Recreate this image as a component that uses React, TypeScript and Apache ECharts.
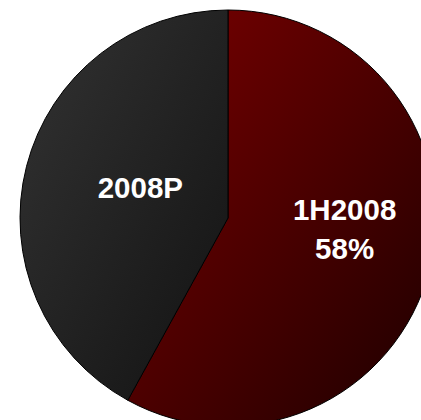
import React, { useEffect, useRef } from "react";
import * as echarts from "echarts";

const categories = ["1H2008", "2008P"];
const values = [58, 42];
const showPercent = [true, false];
const gradientStops = [
  ["#7a0000", "#1c0000"],
  ["#333333", "#121212"],
];
const labelOffsets = [
  [13, -16],
  [16, -4],
];

export default function App() {
  const ref = useRef<HTMLDivElement>(null);
  useEffect(() => {
    const chart = echarts.init(ref.current!, null, { renderer: "svg" });
    chart.setOption({
      animation: false,
      backgroundColor: "#ffffff",
      series: [
        {
          type: "pie",
          center: [228, 218],
          radius: 208,
          startAngle: 90,
          clockwise: true,
          avoidLabelOverlap: false,
          label: {
            show: true,
            position: "inside",
            color: "#ffffff",
            fontFamily: "Liberation Sans, Arial, sans-serif",
            fontWeight: "bold",
            fontSize: 29.5,
            lineHeight: 39,
            formatter: (p: any) =>
              showPercent[p.dataIndex] ? `${p.name}\n${p.value}%` : p.name,
          },
          labelLine: { show: false },
          labelLayout: (p: any) => ({
            dx: labelOffsets[p.dataIndex][0],
            dy: labelOffsets[p.dataIndex][1],
          }),
          emphasis: { disabled: true },
          data: categories.map((name, i) => ({
            name,
            value: values[i],
            itemStyle: {
              color: new echarts.graphic.LinearGradient(0, 0, 1, 1, [
                { offset: 0, color: gradientStops[i][0] },
                { offset: 1, color: gradientStops[i][1] },
              ]),
              borderColor: "#000000",
              borderWidth: 1,
            },
          })),
        },
      ],
    });
    return () => chart.dispose();
  }, []);
  return (
    <div
      ref={ref}
      style={{ position: "fixed", left: 0, top: 0, width: 421, height: 420 }}
    />
  );
}
